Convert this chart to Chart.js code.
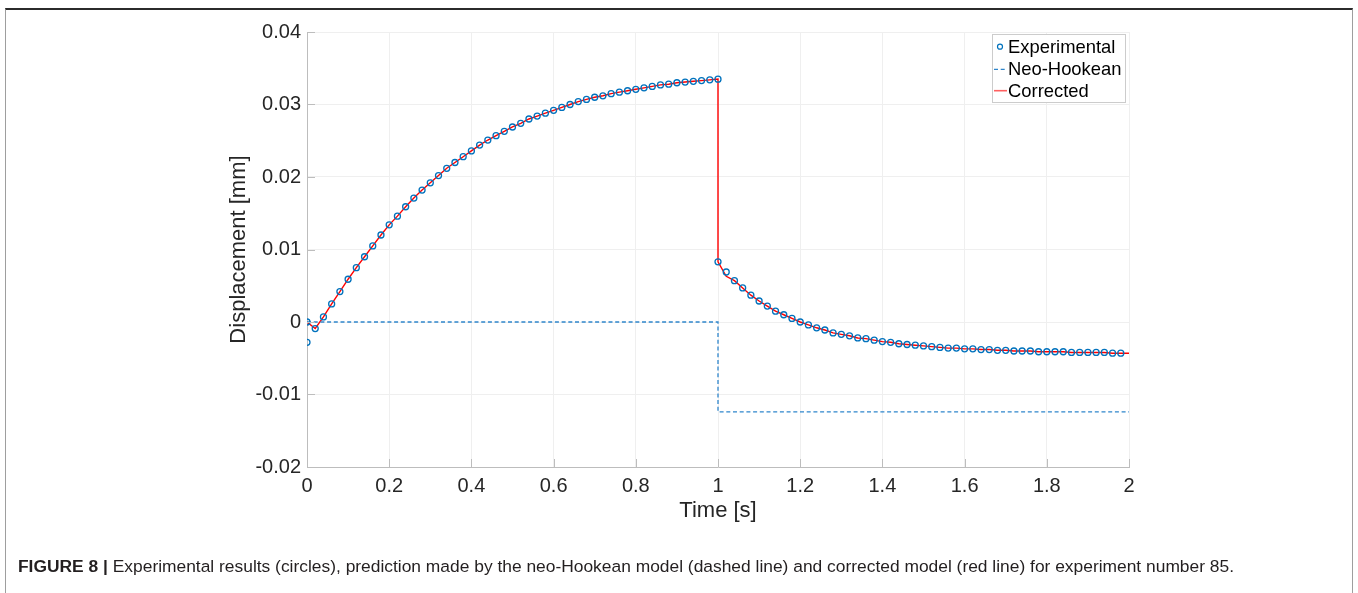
<!DOCTYPE html>
<html>
<head>
<meta charset="utf-8">
<script src="https://cdn.jsdelivr.net/npm/chart.js@4.4.0/dist/chart.umd.min.js"></script>
<style>
  html, body { margin: 0; padding: 0; background: #fff; }
  #wrap { position: relative; width: 1358px; height: 593px; overflow: hidden; }
  #frame {
    position: absolute; left: 5px; top: 8px; width: 1346px; height: 640px;
    border-top: 2px solid #2b2b2b; border-left: 1px solid #9e9e9e; border-right: 1px solid #9e9e9e;
  }
  #chart { position: absolute; left: 0; top: 0; }
  #caption {
    position: absolute; left: 18px; top: 556px;
    font-family: "Liberation Sans", Arial, Helvetica, sans-serif; font-size: 17.4px;
    color: #231f20; white-space: nowrap;
  }
</style>
</head>
<body>
<div id="wrap">
  <div id="frame"></div>
  <canvas id="chart" width="1358" height="593"></canvas>
  <div id="caption"><b>FIGURE 8 |</b> Experimental results (circles), prediction made by the neo-Hookean model (dashed line) and corrected model (red line) for experiment number 85.</div>
</div>
<script>
// time stamps (s)
const loadTime = [0, 0.02, 0.04, 0.06, 0.08, 0.1, 0.12, 0.14, 0.16, 0.18, 0.2, 0.22, 0.24, 0.26, 0.28, 0.3, 0.32, 0.34, 0.36, 0.38, 0.4,
  0.42, 0.44, 0.46, 0.48, 0.5, 0.52, 0.54, 0.56, 0.58, 0.6, 0.62, 0.64, 0.66, 0.68, 0.7, 0.72, 0.74, 0.76, 0.78, 0.8,
  0.82, 0.84, 0.86, 0.88, 0.9, 0.92, 0.94, 0.96, 0.98, 1.0];
const unloadTime = [1.0, 1.02, 1.04, 1.06, 1.08, 1.1, 1.12, 1.14, 1.16, 1.18, 1.2, 1.22, 1.24, 1.26, 1.28, 1.3, 1.32, 1.34, 1.36, 1.38, 1.4,
  1.42, 1.44, 1.46, 1.48, 1.5, 1.52, 1.54, 1.56, 1.58, 1.6, 1.62, 1.64, 1.66, 1.68, 1.7, 1.72, 1.74, 1.76, 1.78, 1.8,
  1.82, 1.84, 1.86, 1.88, 1.9, 1.92, 1.94, 1.96, 1.98, 2.0];

// displacement (mm)
const expLoad = [0, -0.0009, 0.0007, 0.0025, 0.0042, 0.0059, 0.0075, 0.0090, 0.0105, 0.0120, 0.0134, 0.0146, 0.0159, 0.0171, 0.0182,
  0.0192, 0.0202, 0.0212, 0.0220, 0.0228, 0.0236, 0.0244, 0.0251, 0.0257, 0.0263, 0.0269, 0.0274, 0.0280, 0.0284, 0.0288,
  0.0292, 0.0296, 0.0300, 0.0304, 0.0307, 0.0310, 0.0312, 0.0315, 0.0317, 0.0319, 0.0321, 0.0323, 0.0325, 0.0327, 0.0328,
  0.0330, 0.0331, 0.0332, 0.0333, 0.0334, 0.0335];
const expUnload = [0.0083, 0.0069, 0.0057, 0.0047, 0.0037, 0.0029, 0.0022, 0.0015, 0.0010, 0.0005, 0.0000, -0.0004, -0.0008,
  -0.0011, -0.0015, -0.0017, -0.0019, -0.0022, -0.0023, -0.0025, -0.0027, -0.0028, -0.0030, -0.0031, -0.0032, -0.0033,
  -0.0034, -0.0035, -0.0036, -0.0036, -0.0037, -0.0037, -0.0038, -0.0038, -0.0039, -0.0039, -0.0040, -0.0040, -0.0040,
  -0.0041, -0.0041, -0.0041, -0.0041, -0.0042, -0.0042, -0.0042, -0.0042, -0.0042, -0.0043, -0.0043, null];
// extra reading at t = 0
const expExtraTime = [0];
const expExtraDisp = [-0.0028];

const corrLoad = [0, -0.0009, 0.0007, 0.0025, 0.0042, 0.0059, 0.0075, 0.0090, 0.0105, 0.0120, 0.0134, 0.0146, 0.0159, 0.0171, 0.0182,
  0.0192, 0.0202, 0.0212, 0.0220, 0.0228, 0.0236, 0.0244, 0.0251, 0.0257, 0.0263, 0.0269, 0.0274, 0.0280, 0.0284, 0.0288,
  0.0292, 0.0296, 0.0300, 0.0304, 0.0307, 0.0310, 0.0312, 0.0315, 0.0317, 0.0319, 0.0321, 0.0323, 0.0325, 0.0327, 0.0328,
  0.0330, 0.0331, 0.0332, 0.0333, 0.0334, 0.0335];
const corrUnload = [0.0083, 0.0063, 0.0057, 0.0047, 0.0037, 0.0029, 0.0022, 0.0015, 0.0010, 0.0005, 0.0000, -0.0004, -0.0008,
  -0.0011, -0.0015, -0.0017, -0.0019, -0.0022, -0.0023, -0.0025, -0.0027, -0.0028, -0.0030, -0.0031, -0.0032, -0.0033,
  -0.0034, -0.0035, -0.0036, -0.0036, -0.0037, -0.0037, -0.0038, -0.0038, -0.0039, -0.0039, -0.0040, -0.0040, -0.0040,
  -0.0041, -0.0041, -0.0041, -0.0041, -0.0042, -0.0042, -0.0042, -0.0042, -0.0042, -0.0043, -0.0043, -0.0043];

const neoTime = [0, 1, 1, 2];
const neoDisp = [0, 0, -0.0124, -0.0124];

const xTickLabels = ['0', '0.2', '0.4', '0.6', '0.8', '1', '1.2', '1.4', '1.6', '1.8', '2'];
const yTickLabels = ['-0.02', '-0.01', '0', '0.01', '0.02', '0.03', '0.04'];

const FONT = '"Liberation Sans", Arial, Helvetica, sans-serif';
const BLUE = '#0072BD';
const RED = '#ff0000';
const AXIS_GRAY = '#bdbdbd';

function pts(xs, ys) {
  const out = [];
  xs.forEach((x, i) => { if (ys[i] !== null && ys[i] !== undefined) out.push({ x: x, y: ys[i] }); });
  return out;
}

const expPoints = pts(loadTime, expLoad).concat(pts(expExtraTime, expExtraDisp), pts(unloadTime, expUnload));
const corrPoints = pts(loadTime, corrLoad).concat(pts(unloadTime, corrUnload));
const neoPoints = pts(neoTime, neoDisp);

// MATLAB style ticks pointing into the plot
const inwardTicks = {
  id: 'inwardTicks',
  afterDatasetsDraw(chart) {
    const { ctx, chartArea, scales } = chart;
    ctx.save();
    ctx.strokeStyle = AXIS_GRAY;
    ctx.lineWidth = 1;
    ctx.beginPath();
    scales.x.ticks.forEach(t => {
      const px = Math.round(scales.x.getPixelForValue(t.value)) + 0.5;
      ctx.moveTo(px, chartArea.bottom);
      ctx.lineTo(px, chartArea.bottom - 8);
    });
    scales.y.ticks.forEach(t => {
      const py = Math.round(scales.y.getPixelForValue(t.value)) + 0.5;
      ctx.moveTo(chartArea.left, py);
      ctx.lineTo(chartArea.left + 8, py);
    });
    ctx.stroke();
    ctx.restore();
  }
};

// legend box in the top right corner
const boxLegend = {
  id: 'boxLegend',
  afterDraw(chart) {
    const { ctx } = chart;
    const ds = chart.data.datasets;
    const bx = 992.5, by = 34.5, bw = 133, bh = 68;
    const rows = [46.7, 69.3, 90.7];
    ctx.save();
    ctx.fillStyle = '#fff';
    ctx.fillRect(bx, by, bw, bh);
    ctx.strokeStyle = '#cccccc';
    ctx.lineWidth = 1;
    ctx.strokeRect(bx, by, bw, bh);

    // Experimental marker
    ctx.strokeStyle = ds[0].pointBorderColor;
    ctx.lineWidth = 1.2;
    ctx.beginPath();
    ctx.arc(1000, rows[0], 2.5, 0, Math.PI * 2);
    ctx.stroke();

    // Neo-Hookean dashes
    ctx.strokeStyle = ds[1].borderColor;
    ctx.lineWidth = 1.3;
    ctx.setLineDash(ds[1].borderDash);
    ctx.beginPath();
    ctx.moveTo(994, rows[1]);
    ctx.lineTo(1006, rows[1]);
    ctx.stroke();
    ctx.setLineDash([]);

    // Corrected line (lighter in the legend)
    ctx.strokeStyle = '#ff6060';
    ctx.lineWidth = 1.6;
    ctx.beginPath();
    ctx.moveTo(994, rows[2]);
    ctx.lineTo(1007, rows[2]);
    ctx.stroke();

    ctx.fillStyle = '#000';
    ctx.font = '18.4px ' + FONT;
    ctx.textBaseline = 'middle';
    ctx.textAlign = 'left';
    ds.forEach((d, i) => ctx.fillText(d.label, 1008, rows[i] + 1));
    ctx.restore();
  }
};

new Chart(document.getElementById('chart'), {
  type: 'scatter',
  data: {
    datasets: [
      {
        label: 'Experimental',
        data: expPoints,
        showLine: false,
        pointRadius: 3,
        pointHoverRadius: 3,
        pointBorderWidth: 1.3,
        pointBorderColor: BLUE,
        pointBackgroundColor: 'rgba(0,0,0,0)'
      },
      {
        label: 'Neo-Hookean',
        data: neoPoints,
        showLine: true,
        borderColor: '#2f86cc',
        borderWidth: 1.3,
        borderDash: [4, 2.7],
        pointRadius: 0,
        tension: 0
      },
      {
        label: 'Corrected',
        data: corrPoints,
        showLine: true,
        borderColor: RED,
        borderWidth: 1.4,
        pointRadius: 0,
        tension: 0
      }
    ]
  },
  options: {
    responsive: false,
    animation: false,
    devicePixelRatio: 1,
    layout: { padding: { left: 220, right: 229, top: 32, bottom: 69 } },
    plugins: {
      legend: { display: false },
      tooltip: { enabled: false }
    },
    scales: {
      x: {
        type: 'linear',
        min: 0,
        max: 2,
        ticks: {
          stepSize: 0.2,
          autoSkip: false,
          maxRotation: 0,
          padding: 7,
          color: '#262626',
          font: { family: FONT, size: 20 },
          callback: (v, i) => xTickLabels[i]
        },
        grid: { color: '#efefef', drawTicks: false },
        border: { color: AXIS_GRAY },
        title: {
          display: true,
          text: 'Time [s]',
          color: '#262626',
          font: { family: FONT, size: 22 },
          padding: 0
        },
        afterFit: s => { s.height = 57; }
      },
      y: {
        type: 'linear',
        min: -0.02,
        max: 0.04,
        ticks: {
          stepSize: 0.01,
          padding: 6,
          color: '#262626',
          font: { family: FONT, size: 20 },
          callback: (v, i) => yTickLabels[i]
        },
        grid: { color: '#efefef', drawTicks: false },
        border: { color: AXIS_GRAY },
        title: {
          display: true,
          text: 'Displacement [mm]',
          color: '#262626',
          font: { family: FONT, size: 22 },
          padding: { top: 6, bottom: 0 }
        },
        afterFit: s => { s.width = 87; }
      }
    }
  },
  plugins: [inwardTicks, boxLegend]
});
</script>
</body>
</html>
